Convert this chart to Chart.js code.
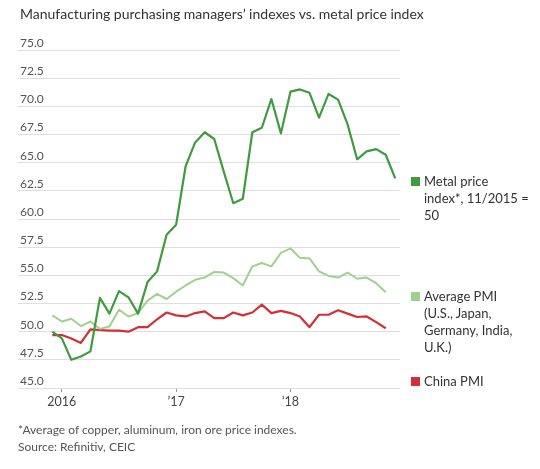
<!DOCTYPE html>
<html>
<head>
<meta charset="utf-8">
<script src="https://cdn.jsdelivr.net/npm/chart.js@4/dist/chart.umd.min.js"></script>
<style>
  html, body { margin: 0; padding: 0; background: #fff; }
  body { width: 540px; height: 469px; position: relative; overflow: hidden; font-family: "Lato", sans-serif; color: #333; }
  #wrap { position: absolute; left: 0; top: 0; width: 540px; height: 469px; }
  .title { position: absolute; left: 20px; top: 5px; font-size: 14px; white-space: nowrap; color: #333; }
  .legend-item { position: absolute; left: 411px; font-size: 13px; line-height: 17px; color: #333; }
  .legend-item .sw { position: absolute; left: 0; top: 4px; width: 9px; height: 9px; }
  .legend-item .txt { margin-left: 13px; }
  .note { position: absolute; left: 18px; font-size: 12px; color: #555; white-space: nowrap; }
</style>
</head>
<body>
<div id="wrap"><canvas id="pmiChart" width="540" height="469"></canvas></div>
<div class="title">Manufacturing purchasing managers’ indexes vs. metal price index</div>

<div class="legend-item" style="top:173px">
  <span class="sw" style="background:#3f9b3d"></span>
  <div class="txt">Metal price<br>index*, 11/2015 =<br>50</div>
</div>
<div class="legend-item" style="top:288px">
  <span class="sw" style="background:#9fd18f"></span>
  <div class="txt">Average PMI<br>(U.S., Japan,<br>Germany, India,<br>U.K.)</div>
</div>
<div class="legend-item" style="top:373px">
  <span class="sw" style="background:#d42e36"></span>
  <div class="txt">China PMI</div>
</div>

<div class="note" style="top:422px">*Average of copper, aluminum, iron ore price indexes.</div>
<div class="note" style="top:439px">Source: Refinitiv, CEIC</div>

<script>
// months, Dec 2015 .. Dec 2018 (month index from Jan 2016)
const months = [
  -1, 0, 1, 2, 3, 4, 5, 6, 7, 8, 9, 10, 11,
  12, 13, 14, 15, 16, 17, 18, 19, 20, 21, 22, 23,
  24, 25, 26, 27, 28, 29, 30, 31, 32, 33, 34, 35
];

const metalIndex = [
  50.0, 49.4, 47.5, 47.8, 48.25, 53.0, 51.6, 53.6, 53.05, 51.6, 54.4, 55.35, 58.6,
  59.5, 64.7, 66.8, 67.7, 67.1, 64.2, 61.4, 61.8, 67.7, 68.1, 70.65, 67.6,
  71.3, 71.5, 71.2, 69.0, 71.1, 70.6, 68.4, 65.3, 66.0, 66.2, 65.7, 63.6
];

const averagePmi = [
  51.45, 50.9, 51.15, 50.5, 50.9, 50.25, 50.45, 51.95, 51.35, 51.65, 52.75, 53.35, 52.9,
  53.55, 54.1, 54.6, 54.8, 55.3, 55.25, 54.75, 54.1, 55.8, 56.1, 55.8, 57.0,
  57.4, 56.55, 56.5, 55.35, 54.95, 54.8, 55.25, 54.7, 54.8, 54.3, 53.5
];

const chinaPmi = [
  49.7, 49.7, 49.4, 49.0, 50.2, 50.15, 50.1, 50.1, 50.0, 50.4, 50.4, 51.1, 51.7,
  51.45, 51.35, 51.65, 51.8, 51.2, 51.2, 51.7, 51.45, 51.7, 52.4, 51.65, 51.85,
  51.65, 51.35, 50.4, 51.5, 51.5, 51.9, 51.6, 51.3, 51.35, 50.85, 50.3
];

const yearTicks = [0, 12, 24];
const yearLabels = ["2016", "’17", "’18"];

function toPoints(values) {
  return values.map((v, i) => ({ x: months[i], y: v }));
}

function initPmiChart() {
  const ctx = document.getElementById("pmiChart").getContext("2d");
  Chart.defaults.font.family = "Lato, sans-serif";
  new Chart(ctx, {
    type: "line",
    data: {
      datasets: [
        { data: toPoints(metalIndex), borderColor: "#3f9b3d", borderWidth: 2.2 },
        { data: toPoints(averagePmi), borderColor: "#9fd18f", borderWidth: 2 },
        { data: toPoints(chinaPmi), borderColor: "#d42e36", borderWidth: 2.2 },
      ],
    },
    options: {
      responsive: false,
      animation: false,
      layout: { padding: { left: 18, right: 140, top: 50, bottom: 57 } },
      elements: {
        point: { radius: 0 },
        line: { tension: 0, borderJoinStyle: "round" },
      },
      plugins: { legend: { display: false }, tooltip: { enabled: false } },
      scales: {
        x: {
          type: "linear",
          min: -4.6,
          max: 35.5,
          afterBuildTicks: (scale) => {
            scale.ticks = yearTicks.map((v) => ({ value: v }));
          },
          afterFit: (scale) => { scale.height = 24; },
          grid: { drawOnChartArea: false, drawTicks: true, tickLength: 4, color: "#999" },
          border: { display: false },
          ticks: {
            padding: 2,
            color: "#444",
            font: { size: 12.5 },
            maxRotation: 0,
            callback: (v) => yearLabels[yearTicks.indexOf(v)],
          },
        },
        y: {
          min: 45,
          max: 75,
          afterFit: (scale) => { scale.width = 0; },
          grid: { color: "#dedede", lineWidth: 1, drawTicks: false },
          border: { display: false },
          ticks: {
            stepSize: 2.5,
            mirror: true,
            padding: 2,
            labelOffset: -7,
            color: "#555",
            font: { size: 12 },
            callback: (v) => v.toFixed(1),
          },
        },
      },
    },
  });
}

document.addEventListener("DOMContentLoaded", () => {
  initPmiChart();
});
</script>
</body>
</html>
